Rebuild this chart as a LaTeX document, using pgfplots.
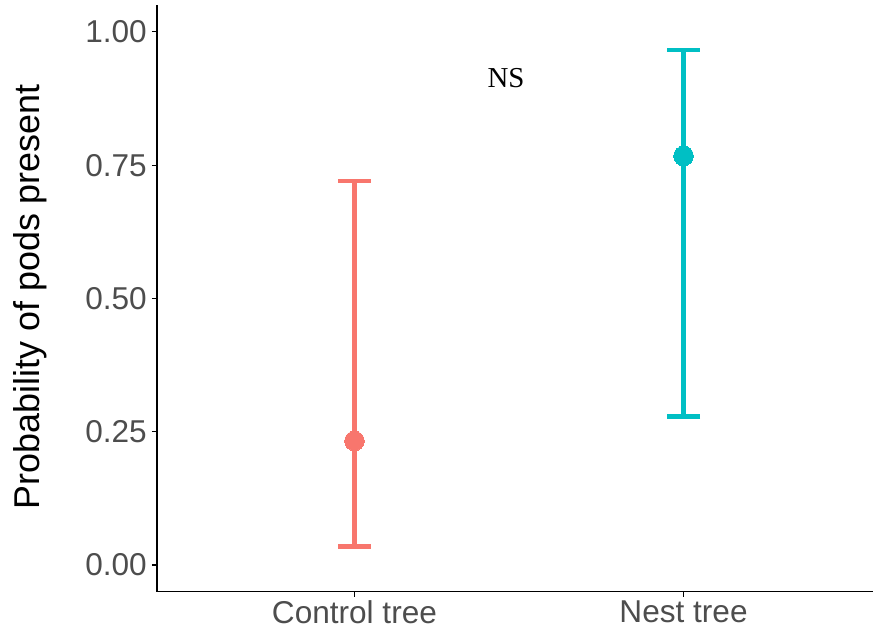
\documentclass[border=0pt]{standalone}
\usepackage{pgfplots}
\pgfplotsset{compat=1.18}
\usepackage{fontspec}
\setmainfont{Liberation Sans}
\newfontfamily\timesfont{Liberation Serif}

\definecolor{ctrl}{HTML}{F8766D}
\definecolor{nest}{HTML}{00BFC4}
\definecolor{ticktext}{HTML}{4D4D4D}

% group, estimate, upper CI offset, lower CI offset
\pgfplotstableread{
x   y      ep     em
1   0.2326 0.4879 0.1983
}\controltab
\pgfplotstableread{
x   y      ep     em
2   0.7674 0.1983 0.4892
}\nesttab

\begin{document}
\begin{tikzpicture}
\useasboundingbox (-157bp,-40.4bp) rectangle (716bp,591.6bp);
\begin{axis}[
  at={(0,0)}, anchor=south west,
  scale only axis,
  width=724bp, height=586.3bp,
  xmin=0.4, xmax=2.6,
  ymin=-0.05, ymax=1.05,
  axis lines=left,
  axis line style={-, line width=1.6bp, black},
  tick align=outside,
  major tick length=5bp,
  tick style={line width=1.1bp, black},
  xtick={1,2},
  xticklabels={Control tree, Nest tree},
  ytick={0,0.25,0.5,0.75,1},
  yticklabels={0.00,0.25,0.50,0.75,1.00},
  tick label style={font=\fontsize{31.7}{38}\selectfont, text=ticktext},
  yticklabel style={inner sep=0pt, xshift=-5bp},
  xticklabel style={inner sep=0pt, yshift=-4bp},
  ylabel={Probability of pods present},
  ylabel style={font=\fontsize{36}{43}\selectfont, at={(axis description cs:-0.1623,0.503)}, anchor=base, rotate=0},
  clip=false,
]
\addplot[ctrl, line width=4.5bp, mark=*, mark size=9.8bp, mark options={draw=ctrl, fill=ctrl, line width=0pt},
  error bars/.cd, y dir=both, y explicit,
  error bar style={line width=4.5bp, ctrl},
  error mark=|,
  error mark options={mark size=16.5bp, line width=4.5bp, ctrl}]
  table[x=x, y=y, y error plus=ep, y error minus=em] {\controltab};
\addplot[nest, line width=4.5bp, mark=*, mark size=9.8bp, mark options={draw=nest, fill=nest, line width=0pt},
  error bars/.cd, y dir=both, y explicit,
  error bar style={line width=4.5bp, nest},
  error mark=|,
  error mark options={mark size=16.5bp, line width=4.5bp, nest}]
  table[x=x, y=y, y error plus=ep, y error minus=em] {\nesttab};
\node[font=\timesfont\fontsize{29}{35}\selectfont, anchor=center] at (axis cs:1.4605,0.9128) {NS};
\end{axis}
\end{tikzpicture}
\end{document}
